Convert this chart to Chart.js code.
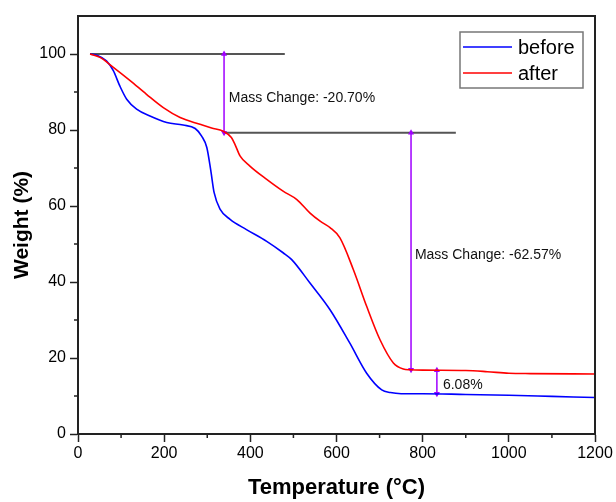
<!DOCTYPE html>
<html>
<head>
<meta charset="utf-8">
<script src="https://cdn.jsdelivr.net/npm/chart.js@4.4.0/dist/chart.umd.min.js"></script>
<style>
  body { margin: 0; background: #fff; }
  canvas { display: block; }
</style>
</head>
<body>
<canvas id="tga" width="616" height="502"></canvas>
<script>
// TGA curves, values
const tempBefore = [28, 45, 66, 82, 97, 113, 136, 167, 206, 244, 272, 287, 299, 308, 316, 330, 353, 391, 438, 476, 496, 538, 585, 631, 670, 705, 725, 750, 800, 900, 1000, 1100, 1200];
const weightBefore = [100, 99.6, 98.2, 95.6, 91.6, 88.1, 85.5, 83.7, 82.0, 81.3, 80.4, 78.4, 75.4, 69.5, 63.5, 59.1, 56.5, 53.8, 50.7, 47.7, 45.9, 39.8, 32.7, 23.9, 16.0, 11.6, 10.9, 10.6, 10.6, 10.4, 10.2, 9.9, 9.6];

const tempAfter = [28, 51, 82, 121, 159, 198, 237, 283, 310, 337, 356, 364, 376, 399, 438, 476, 508, 538, 562, 585, 608, 639, 670, 701, 732, 755, 771, 800, 900, 950, 1000, 1050, 1200];
const weightAfter = [100, 99.1, 96.5, 93.0, 89.4, 85.9, 83.3, 81.5, 80.5, 79.7, 78.0, 76.3, 73.2, 70.5, 67.0, 63.9, 61.7, 58.2, 56.0, 54.3, 51.6, 43.3, 33.6, 24.8, 18.7, 17.1, 16.9, 16.8, 16.7, 16.4, 16.0, 15.9, 15.8];

const seriesNames = ["before", "after"];

// guide lines: [from T, to T, weight]
const refLines = [[28, 480, 100], [339, 877, 79.3]];
// arrows: [T, upper weight, lower weight]
const arrows = [[339, 100, 79.3], [773, 79.3, 16.9], [833, 16.8, 10.6]];
// notes: [text, T, weight]
const notes = [["Mass Change: -20.70%", 350, 88.4], ["Mass Change: -62.57%", 782, 47], ["6.08%", 847, 12.9]];

const xTicks = [0, 200, 400, 600, 800, 1000, 1200];
const yTicks = [0, 20, 40, 60, 80, 100];

const FONT = '"Liberation Sans", Arial, sans-serif';
const PURPLE = 'rgb(160, 0, 255)';

function pts(xs, ys) {
  return xs.map((x, i) => ({ x: x, y: ys[i] }));
}

const datasets = [
  {
    label: seriesNames[0], data: pts(tempBefore, weightBefore),
    borderColor: 'rgb(0,0,255)', borderWidth: 1.6, pointRadius: 0,
    cubicInterpolationMode: 'monotone', order: 1
  },
  {
    label: seriesNames[1], data: pts(tempAfter, weightAfter),
    borderColor: 'rgb(255,0,0)', borderWidth: 1.6, pointRadius: 0,
    cubicInterpolationMode: 'monotone', order: 0
  }
];
refLines.forEach(l => datasets.push({
  label: '', data: [{ x: l[0], y: l[2] }, { x: l[1], y: l[2] }],
  borderColor: '#555', borderWidth: 2, pointRadius: 0, order: 5
}));
arrows.forEach(a => datasets.push({
  label: '', data: [{ x: a[0], y: a[1] }, { x: a[0], y: a[2] }],
  borderColor: PURPLE, borderWidth: 1.5, backgroundColor: PURPLE,
  pointStyle: 'triangle', pointRadius: 3.5, pointRotation: [0, 180],
  pointBackgroundColor: PURPLE, pointBorderColor: PURPLE, pointBorderWidth: 0, order: 3
}));

// box round the plot, minor ticks, notes and the legend
const extras = {
  id: 'extras',
  afterDraw(chart) {
    const c = chart.ctx, a = chart.chartArea;
    const xs = chart.scales.x, ys = chart.scales.y;
    c.save();
    c.strokeStyle = '#222';
    c.lineWidth = 2;
    c.strokeRect(a.left, a.top, a.right - a.left, a.bottom - a.top);

    c.lineWidth = 1.5;
    c.beginPath();
    for (let v = 100; v < 1200; v += 200) {
      const px = xs.getPixelForValue(v);
      c.moveTo(px, a.bottom); c.lineTo(px, a.bottom + 4);
    }
    for (let v = 10; v < 110; v += 20) {
      const py = ys.getPixelForValue(v);
      c.moveTo(a.left, py); c.lineTo(a.left - 4, py);
    }
    c.stroke();

    c.fillStyle = '#111';
    c.font = '14px ' + FONT;
    c.textBaseline = 'middle';
    c.textAlign = 'left';
    notes.forEach(n => c.fillText(n[0], xs.getPixelForValue(n[1]), ys.getPixelForValue(n[2])));

    // legend
    const bx = a.right - 135, by = a.top + 16, bw = 123, bh = 56;
    c.strokeStyle = '#777';
    c.lineWidth = 1.5;
    c.strokeRect(bx, by, bw, bh);
    c.font = '20px ' + FONT;
    chart.data.datasets.slice(0, 2).forEach((ds, i) => {
      const ly = by + 15 + i * 26;
      c.strokeStyle = ds.borderColor;
      c.lineWidth = 1.6;
      c.beginPath(); c.moveTo(bx + 3, ly); c.lineTo(bx + 52, ly); c.stroke();
      c.fillStyle = '#000';
      c.fillText(ds.label, bx + 58, ly + 1);
    });
    c.restore();
  }
};

new Chart(document.getElementById('tga'), {
  type: 'line',
  data: { datasets: datasets },
  options: {
    responsive: false,
    animation: false,
    layout: { padding: { top: 16, right: 21, left: 0, bottom: 0 } },
    plugins: { legend: { display: false }, tooltip: { enabled: false } },
    scales: {
      x: {
        type: 'linear', min: 0, max: 1200,
        afterFit: s => { s.height = 68; },
        afterBuildTicks: s => { s.ticks = xTicks.map(v => ({ value: v })); },
        grid: { drawOnChartArea: false, tickLength: 8, tickWidth: 1.5, tickColor: '#222' },
        border: { color: '#222', width: 2 },
        ticks: { color: '#000', font: { family: FONT, size: 16 }, padding: 2, maxRotation: 0, callback: v => String(v) },
        title: { display: true, text: 'Temperature (°C)', color: '#000', font: { family: FONT, size: 22, weight: 'bold' }, padding: { top: 4, bottom: 1 } }
      },
      y: {
        type: 'linear', min: 0, max: 110,
        afterFit: s => { s.width = 78; },
        afterBuildTicks: s => { s.ticks = yTicks.map(v => ({ value: v })); },
        grid: { drawOnChartArea: false, tickLength: 8, tickWidth: 1.5, tickColor: '#222' },
        border: { color: '#222', width: 2 },
        ticks: { color: '#000', font: { family: FONT, size: 16 }, padding: 4, callback: v => String(v) },
        title: { display: true, text: 'Weight (%)', color: '#000', font: { family: FONT, size: 21, weight: 'bold' }, padding: { top: 10, bottom: 0 } }
      }
    }
  },
  plugins: [extras]
});
</script>
</body>
</html>
